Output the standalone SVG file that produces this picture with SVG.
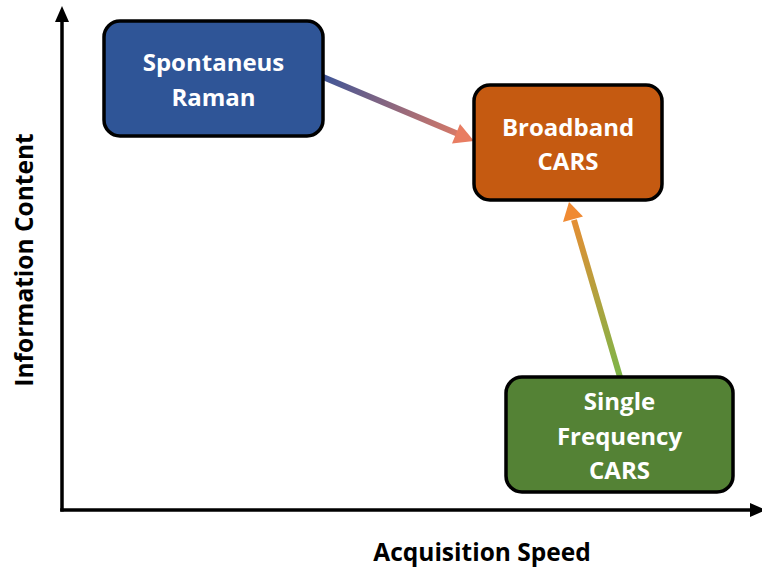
<svg xmlns="http://www.w3.org/2000/svg" width="762" height="568" viewBox="0 0 762 568">
<style>
.node rect{stroke:#000;stroke-width:3.5}
.lbl{font-family:"Open Sans","Liberation Sans",sans-serif;font-weight:bold;font-size:24px;fill:#fff;text-anchor:middle}
.ax{font-family:"Open Sans","Liberation Sans",sans-serif;font-weight:bold;font-size:24.5px;fill:#000;text-anchor:middle}
</style>
<defs>
<linearGradient id="g1" gradientUnits="userSpaceOnUse" x1="323" y1="77" x2="474" y2="141">
<stop offset="0" stop-color="#3F5597"/><stop offset="1" stop-color="#E87D62"/>
</linearGradient>
<linearGradient id="g2" gradientUnits="userSpaceOnUse" x1="620" y1="377" x2="569" y2="202">
<stop offset="0" stop-color="#7DB548"/><stop offset="1" stop-color="#F08A32"/>
</linearGradient>
</defs>
<g id="axes">
<line x1="62" y1="20" x2="62" y2="511.5" stroke="#000" stroke-width="3.5"/>
<polygon points="62,6 55,22 69,22" fill="#000"/>
<line x1="60.25" y1="510" x2="752" y2="510" stroke="#000" stroke-width="3.5"/>
<polygon points="766,510 750,503 750,517" fill="#000"/>
<text class="ax" x="482" y="561">Acquisition Speed</text>
<text class="ax" transform="translate(33,260) rotate(-90)">Information Content</text>
</g>
<g id="connectors">
<path d="M323,77 L457,133.5" stroke="url(#g1)" stroke-width="6" fill="none"/>
<polygon points="474,141 452,143.5 460,124" fill="#E87D62"/>
<path d="M620,377 L574,220" stroke="url(#g2)" stroke-width="6" fill="none"/>
<polygon points="569,202 563,222 583,216.5" fill="#F08A32"/>
</g>
<g id="spontaneous-raman" class="node">
<rect x="104" y="21" width="219" height="115" rx="16" fill="#2F5597"/>
<text class="lbl" x="213.5" y="71">Spontaneus</text>
<text class="lbl" x="213.5" y="106">Raman</text>
</g>
<g id="broadband-cars" class="node">
<rect x="474" y="85" width="188" height="115" rx="16" fill="#C55A11"/>
<text class="lbl" x="568" y="136">Broadband</text>
<text class="lbl" x="568" y="170">CARS</text>
</g>
<g id="single-frequency-cars" class="node">
<rect x="506" y="377" width="227" height="115" rx="16" fill="#548235"/>
<text class="lbl" x="619.5" y="410">Single</text>
<text class="lbl" x="619.5" y="445">Frequency</text>
<text class="lbl" x="619.5" y="479">CARS</text>
</g>
</svg>
